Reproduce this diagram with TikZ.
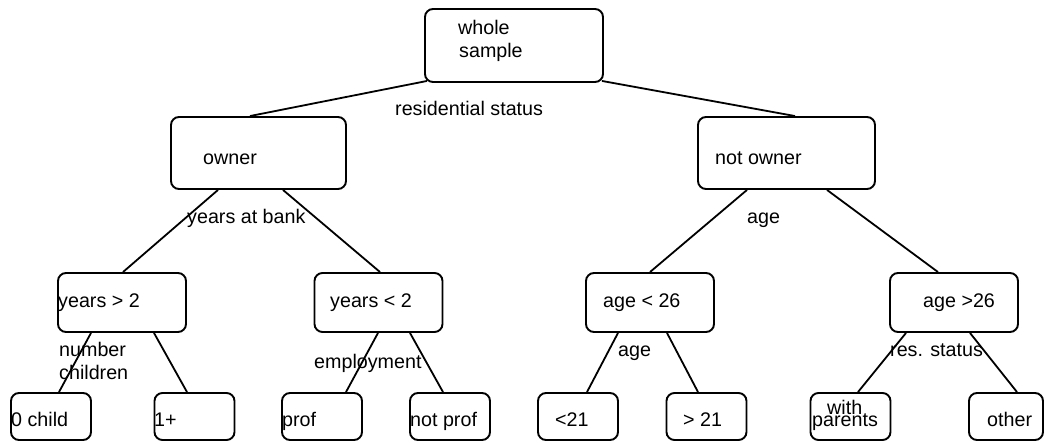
\documentclass[tikz,border=0pt]{standalone}
\usepackage{fontspec}
\setmainfont{Liberation Sans}
\begin{document}
\begin{tikzpicture}[x=1pt,y=-1pt,
  box/.style={draw=black,line width=1.9pt,rounded corners=8pt,inner sep=0pt,fill=none},
  leafbox/.style={box,minimum width=80pt,minimum height=47pt},
  midbox/.style={box,minimum width=128pt,minimum height=59pt},
  lbl/.style={anchor=base west,inner sep=0pt,font=\fontsize{19.7}{23.6}\selectfont},
  conn/.style={draw=black,line width=1.8pt}]
\useasboundingbox (0,0) rectangle (1045,443);
% boxes
\node[box,minimum width=178pt,minimum height=73pt] (root) at (514,45.5) {};
\node[box,minimum width=175pt,minimum height=72pt] (owner) at (258.5,153) {};
\node[box,minimum width=177pt,minimum height=72pt] (notowner) at (786.5,153) {};
\node[midbox] (ygt) at (122,302.5) {};
\node[midbox] (ylt) at (378.5,302.5) {};
\node[midbox] (alt) at (650,302.5) {};
\node[midbox] (agt) at (954,302.5) {};
\node[leafbox] (child0) at (51,416.5) {};
\node[leafbox] (oneplus) at (194.5,416.5) {};
\node[leafbox] (prof) at (322,416.5) {};
\node[leafbox] (notprof) at (450,416.5) {};
\node[leafbox] (lt21) at (578,416.5) {};
\node[leafbox] (gt21) at (706.5,416.5) {};
\node[leafbox] (withp) at (850.5,416.5) {};
\node[leafbox,minimum width=74pt] (other) at (1006,416.5) {};
% texts
\node[lbl] (t-whole) at (458,35) {whole};
\node[lbl] (t-sample) at (459,58) {sample};
\node[lbl] (t-res) at (395,116) {residential status};
\node[lbl] (t-owner) at (203,165) {owner};
\node[lbl] (t-notowner) at (715,165) {not owner};
\node[lbl] (t-yab) at (187,224) {years at bank};
\node[lbl] (t-age1) at (747,224) {age};
\node[lbl] (t-ygt) at (58,308) {years > 2};
\node[lbl] (t-ylt) at (330,308) {years < 2};
\node[lbl] (t-alt) at (603,308) {age < 26};
\node[lbl] (t-agt) at (923,308) {age >26};
\node[lbl] (t-number) at (59,357) {number};
\node[lbl] (t-children) at (59,380) {children};
\node[lbl] (t-empl) at (314,369) {employment};
\node[lbl] (t-age2) at (618,357) {age};
\node[lbl] (t-resst) at (890,357) {res. status};
\node[lbl] (t-child0) at (11,427) {0 child};
\node[lbl] (t-oneplus) at (154,427) {1+};
\node[lbl] (t-prof) at (282,427) {prof};
\node[lbl] (t-notprof) at (410,427) {not prof};
\node[lbl] (t-lt21) at (555,427) {<21};
\node[lbl] (t-gt21) at (683,427) {> 21};
\node[lbl] (t-with) at (827,415) {with};
\node[lbl] (t-parents) at (812,427) {parents};
\node[lbl] (t-other) at (987,427) {other};
% connectors
\draw[conn] ([xshift=3pt,yshift=2pt]root.south west) -- ([xshift=-8.5pt]owner.north);
\draw[conn] ([xshift=-2pt,yshift=2pt]root.south east) -- ([xshift=8.5pt]notowner.north);
\draw[conn] ([xshift=-40.5pt]owner.south) -- ([xshift=1pt]ygt.north);
\draw[conn] ([xshift=24.5pt]owner.south) -- ([xshift=1.5pt]ylt.north);
\draw[conn] ([xshift=-39.5pt]notowner.south) -- (alt.north);
\draw[conn] ([xshift=40.5pt]notowner.south) -- ([xshift=-16pt]agt.north);
\draw[conn] ([xshift=-31pt]ygt.south) -- ([xshift=8pt]child0.north);
\draw[conn] ([xshift=32pt]ygt.south) -- ([xshift=-7.5pt]oneplus.north);
\draw[conn] ([xshift=-0.5pt]ylt.south) -- ([xshift=24pt]prof.north);
\draw[conn] ([xshift=31.5pt]ylt.south) -- ([xshift=-7pt]notprof.north);
\draw[conn] ([xshift=-32pt]alt.south) -- ([xshift=9pt]lt21.north);
\draw[conn] ([xshift=17pt]alt.south) -- ([xshift=-8.5pt]gt21.north);
\draw[conn] ([xshift=-48pt]agt.south) -- ([xshift=7.5pt]withp.north);
\draw[conn] ([xshift=16pt]agt.south) -- ([xshift=11pt]other.north);
\end{tikzpicture}
\end{document}
